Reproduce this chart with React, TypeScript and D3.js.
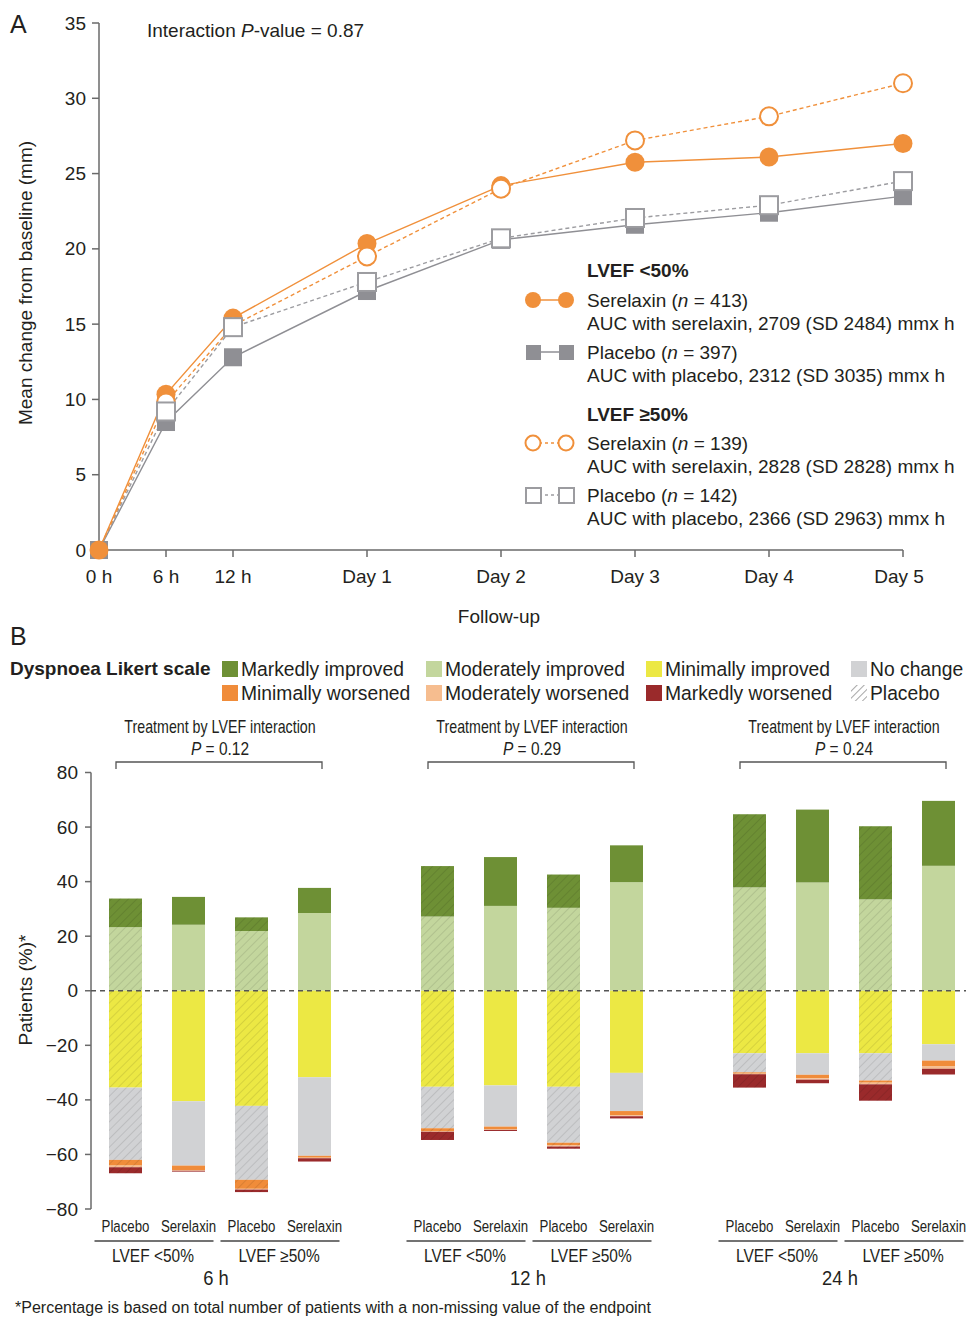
import React from "react";
import * as d3 from "d3";

// ---------- Panel A data ----------
const timeLabels = ["0 h", "6 h", "12 h", "Day 1", "Day 2", "Day 3", "Day 4", "Day 5"];
const timeHours = [0, 6, 12, 24, 48, 72, 96, 120];
const serelaxinLow = [0, 10.35, 15.4, 20.35, 24.2, 25.75, 26.1, 27.0];
const placeboLow = [0, 8.5, 12.8, 17.2, 20.6, 21.6, 22.4, 23.5];
const serelaxinHigh = [0, 9.8, 14.9, 19.5, 24.0, 27.2, 28.8, 31.0];
const placeboHigh = [0, 9.2, 14.8, 17.8, 20.7, 22.05, 22.9, 24.5];
const yTicksA = [0, 5, 10, 15, 20, 25, 30, 35];

// ---------- Panel B data ----------
const timepoints = ["6 h", "12 h", "24 h"];
const pValues = ["0.12", "0.29", "0.24"];
const treatments = ["Placebo", "Serelaxin", "Placebo", "Serelaxin"];
const lvefGroups = ["LVEF <50%", "LVEF \u226550%"];
// 12 bars: per timepoint [Placebo <50, Serelaxin <50, Placebo >=50, Serelaxin >=50]
const markedlyImproved = [10.5, 10.2, 5.0, 9.2, 18.5, 17.9, 12.2, 13.5, 26.8, 26.7, 26.8, 23.8];
const moderatelyImproved = [23.3, 24.2, 21.9, 28.5, 27.2, 31.1, 30.4, 39.8, 37.9, 39.7, 33.5, 45.8];
const minimallyImproved = [35.5, 40.5, 42.2, 31.7, 35.2, 34.7, 35.2, 30.1, 22.9, 22.9, 22.9, 19.6];
const noChange = [26.5, 23.6, 27.1, 28.8, 15.2, 15.1, 20.5, 14.0, 7.0, 7.9, 10.0, 6.0];
const minimallyWorsened = [2.1, 1.6, 3.3, 0.7, 1.0, 1.0, 1.0, 1.5, 0.5, 1.3, 0.8, 2.0];
const moderatelyWorsened = [0.6, 0.3, 0.3, 0.2, 0.3, 0.2, 0.4, 0.4, 0.2, 0.5, 0.6, 1.0];
const markedlyWorsened = [2.2, 0.3, 0.9, 1.2, 3.0, 0.4, 0.8, 0.8, 4.9, 1.3, 6.0, 2.1];
const yTicksB = [-80, -60, -40, -20, 0, 20, 40, 60, 80];

const FONT = "'Liberation Sans', Arial, Helvetica, sans-serif";
const TXT = "#231f20";
const ORANGE = "#f0903b";
const GRAY = "#8f8f94";
const GRAY_OPEN = "#9c9ca0";
const AXIS = "#6a6a6a";

const catColors: Record<string, string> = {
  modImp: "#c3d69d",
  markImp: "#6e9035",
  minImp: "#ece844",
  noChange: "#d1d2d4",
  minWor: "#f08c3a",
  modWor: "#f6bd8f",
  markWor: "#9a2a2b",
};

const legendItems = [
  { key: "markImp", label: "Markedly improved", col: 0, row: 0 },
  { key: "modImp", label: "Moderately improved", col: 1, row: 0 },
  { key: "minImp", label: "Minimally improved", col: 2, row: 0 },
  { key: "noChange", label: "No change", col: 3, row: 0 },
  { key: "minWor", label: "Minimally worsened", col: 0, row: 1 },
  { key: "modWor", label: "Moderately worsened", col: 1, row: 1 },
  { key: "markWor", label: "Markedly worsened", col: 2, row: 1 },
  { key: "placebo", label: "Placebo", col: 3, row: 1 },
];
const legendColX = [222, 426, 646, 851];

const Cond = ({ x, y, s = 0.82, size = 18, children, anchor = "middle" }: any) => (
  <text
    transform={`translate(${x},${y}) scale(${s},1)`}
    textAnchor={anchor}
    fontSize={size}
    fill={TXT}
  >
    {children}
  </text>
);

export default function App() {
  // ----- Panel A scales -----
  const xA = d3.scaleLinear().domain([0, 24, 120]).range([99, 367, 903]);
  const yA = d3.scaleLinear().domain([0, 35]).range([550, 23]);
  const line = d3
    .line<number>()
    .x((_, i) => xA(timeHours[i]))
    .y((d) => yA(d));

  // ----- Panel B scales -----
  const yB = d3.scaleLinear().domain([-80, 80]).range([1209, 772.5]);
  const xG = d3.scalePoint<string>().domain(timepoints).range([220, 844]);
  const xIn = d3.scalePoint<string>().domain(["0", "1", "2", "3"]).range([-94.5, 94.5]);
  const barW = 33;

  const rows = markedlyImproved.map((_, i) => ({
    modImp: moderatelyImproved[i],
    markImp: markedlyImproved[i],
    minImp: -minimallyImproved[i],
    noChange: -noChange[i],
    minWor: -minimallyWorsened[i],
    modWor: -moderatelyWorsened[i],
    markWor: -markedlyWorsened[i],
  }));
  const keys = ["modImp", "markImp", "minImp", "noChange", "minWor", "modWor", "markWor"];
  const stacked = d3.stack<any>().keys(keys).offset(d3.stackOffsetDiverging)(rows);

  const barX = (i: number) => {
    const g = timepoints[Math.floor(i / 4)];
    return (xG(g) as number) + (xIn(String(i % 4)) as number);
  };
  const isPlacebo = (i: number) => treatments[i % 4] === "Placebo";

  return (
    <svg
      width={966}
      height={1318}
      style={{ position: "absolute", left: 0, top: 0, background: "#fff" }}
      fontFamily={FONT}
    >
      <defs>
        <pattern id="hatch" patternUnits="userSpaceOnUse" width={6} height={6} patternTransform="rotate(45)">
          <line x1={0} y1={0} x2={0} y2={6} stroke="#000" strokeOpacity={0.16} strokeWidth={1.2} />
        </pattern>
        <pattern id="hatchIcon" patternUnits="userSpaceOnUse" width={5} height={5} patternTransform="rotate(45)">
          <line x1={0} y1={0} x2={0} y2={5} stroke="#777" strokeWidth={1.3} />
        </pattern>
      </defs>

      {/* ================= Panel A ================= */}
      <text x={10} y={33} fontSize={25} fill={TXT}>A</text>
      <text x={147} y={37} fontSize={19} fill={TXT}>
        Interaction <tspan fontStyle="italic">P</tspan>-value = 0.87
      </text>

      {/* axes */}
      <line x1={99} x2={99} y1={yA(35)} y2={yA(0)} stroke={AXIS} strokeWidth={1.5} />
      <line x1={99} x2={903} y1={yA(0)} y2={yA(0)} stroke={AXIS} strokeWidth={1.5} />
      {yTicksA.map((t) => (
        <g key={t}>
          <line x1={92} x2={99} y1={yA(t)} y2={yA(t)} stroke={AXIS} strokeWidth={1.5} />
          <text x={86} y={yA(t) + 6.5} textAnchor="end" fontSize={19} fill={TXT}>{t}</text>
        </g>
      ))}
      {timeLabels.map((lab, i) => (
        <g key={lab}>
          {i > 0 && (
            <line x1={xA(timeHours[i])} x2={xA(timeHours[i])} y1={550} y2={557} stroke={AXIS} strokeWidth={1.5} />
          )}
          <text x={xA(timeHours[i]) + (i === timeLabels.length - 1 ? -4 : 0)} y={583} textAnchor="middle" fontSize={19} fill={TXT}>
            {lab}
          </text>
        </g>
      ))}
      <text x={499} y={623} textAnchor="middle" fontSize={19} fill={TXT}>Follow-up</text>
      <text transform="translate(32,283) rotate(-90)" textAnchor="middle" fontSize={19} fill={TXT}>
        Mean change from baseline (mm)
      </text>

      {/* lines */}
      <path d={line(placeboLow) as string} fill="none" stroke={GRAY} strokeWidth={1.4} />
      <path d={line(placeboHigh) as string} fill="none" stroke={GRAY_OPEN} strokeWidth={1.4} strokeDasharray="4,3" />
      <path d={line(serelaxinLow) as string} fill="none" stroke={ORANGE} strokeWidth={1.4} />
      <path d={line(serelaxinHigh) as string} fill="none" stroke={ORANGE} strokeWidth={1.4} strokeDasharray="4,3" />

      {/* markers */}
      {placeboLow.map((v, i) => (
        <rect key={"pl" + i} x={xA(timeHours[i]) - 9} y={yA(v) - 9} width={18} height={18} fill={GRAY} />
      ))}
      {serelaxinLow.map((v, i) => (
        <circle key={"sl" + i} cx={xA(timeHours[i])} cy={yA(v)} r={9.5} fill={ORANGE} />
      ))}
      {serelaxinHigh.map((v, i) =>
        i === 0 ? null : (
          <circle key={"sh" + i} cx={xA(timeHours[i])} cy={yA(v)} r={9} fill="#fff" stroke={ORANGE} strokeWidth={2} />
        )
      )}
      {placeboHigh.map((v, i) =>
        i === 0 ? null : (
          <rect key={"ph" + i} x={xA(timeHours[i]) - 9} y={yA(v) - 9} width={18} height={18} fill="#fff" stroke={GRAY_OPEN} strokeWidth={2} />
        )
      )}

      {/* legend A */}
      <g fontSize={19} fill={TXT}>
        <text x={587} y={277} fontWeight="bold" fill={TXT}>{"LVEF <50%"}</text>
        <line x1={533} x2={566} y1={300} y2={300} stroke={ORANGE} strokeWidth={1.4} />
        <circle cx={533} cy={300} r={8} fill={ORANGE} />
        <circle cx={566} cy={300} r={8} fill={ORANGE} />
        <text x={587} y={307} fill={TXT}>Serelaxin (<tspan fontStyle="italic">n</tspan> = 413)</text>
        <text x={587} y={330} fill={TXT}>AUC with serelaxin, 2709 (SD 2484) mmx h</text>

        <line x1={533} x2={566} y1={352} y2={352} stroke={GRAY} strokeWidth={1.4} />
        <rect x={526} y={345} width={15} height={15} fill={GRAY} />
        <rect x={559} y={345} width={15} height={15} fill={GRAY} />
        <text x={587} y={359} fill={TXT}>Placebo (<tspan fontStyle="italic">n</tspan> = 397)</text>
        <text x={587} y={382} fill={TXT}>AUC with placebo, 2312 (SD 3035) mmx h</text>

        <text x={587} y={421} fontWeight="bold" fill={TXT}>{"LVEF \u226550%"}</text>
        <line x1={533} x2={566} y1={443} y2={443} stroke={ORANGE} strokeWidth={1.4} strokeDasharray="3,3" />
        <circle cx={533} cy={443} r={7.5} fill="#fff" stroke={ORANGE} strokeWidth={2} />
        <circle cx={566} cy={443} r={7.5} fill="#fff" stroke={ORANGE} strokeWidth={2} />
        <text x={587} y={450} fill={TXT}>Serelaxin (<tspan fontStyle="italic">n</tspan> = 139)</text>
        <text x={587} y={473} fill={TXT}>AUC with serelaxin, 2828 (SD 2828) mmx h</text>

        <line x1={533} x2={566} y1={495} y2={495} stroke={GRAY_OPEN} strokeWidth={1.4} strokeDasharray="3,3" />
        <rect x={526} y={488} width={15} height={15} fill="#fff" stroke={GRAY_OPEN} strokeWidth={2} />
        <rect x={559} y={488} width={15} height={15} fill="#fff" stroke={GRAY_OPEN} strokeWidth={2} />
        <text x={587} y={502} fill={TXT}>Placebo (<tspan fontStyle="italic">n</tspan> = 142)</text>
        <text x={587} y={525} fill={TXT}>AUC with placebo, 2366 (SD 2963) mmx h</text>
      </g>

      {/* ================= Panel B ================= */}
      <text x={10} y={645} fontSize={25} fill={TXT}>B</text>
      <text x={10} y={675} fontSize={19} fontWeight="bold" fill={TXT}>Dyspnoea Likert scale</text>
      {legendItems.map((it) => {
        const x = legendColX[it.col];
        const y = it.row === 0 ? 661 : 685;
        return (
          <g key={it.key}>
            <rect
              x={x}
              y={y}
              width={16}
              height={16}
              fill={it.key === "placebo" ? "url(#hatchIcon)" : catColors[it.key]}
            />
            <text x={x + 19} y={y + 14.5} fontSize={19.3} fill={TXT}>{it.label}</text>
          </g>
        );
      })}

      {/* bracket annotations */}
      {timepoints.map((t, gi) => {
        const g = xG(t) as number;
        return (
          <g key={t}>
            <Cond x={g} y={733} s={0.79} size={18}>Treatment by LVEF interaction</Cond>
            <Cond x={g} y={755} s={0.86} size={18}>
              <tspan fontStyle="italic">P</tspan> = {pValues[gi]}
            </Cond>
            <path
              d={`M${g - 104},769 V762 H${g + 102} V769`}
              fill="none"
              stroke="#555"
              strokeWidth={1.3}
            />
          </g>
        );
      })}

      {/* axis B */}
      <line x1={91} x2={91} y1={yB(80)} y2={yB(-80)} stroke={AXIS} strokeWidth={1.5} />
      {yTicksB.map((t) => (
        <g key={t}>
          <line x1={85} x2={91} y1={yB(t)} y2={yB(t)} stroke={AXIS} strokeWidth={1.5} />
          <text x={78} y={yB(t) + 6.5} textAnchor="end" fontSize={19} fill={TXT}>
            {t < 0 ? "\u2212" + Math.abs(t) : t}
          </text>
        </g>
      ))}
      <text transform="translate(32,990) rotate(-90)" textAnchor="middle" fontSize={19} fill={TXT}>
        Patients (%)*
      </text>

      {/* bars */}
      {stacked.map((series) => (
        <g key={series.key}>
          {series.map((d, i) => {
            const y0 = yB(d[0]);
            const y1 = yB(d[1]);
            const top = Math.min(y0, y1);
            const h = Math.abs(y1 - y0);
            return (
              <g key={i}>
                <rect x={barX(i) - barW / 2} y={top} width={barW} height={h} fill={catColors[series.key]} />
                {isPlacebo(i) && (
                  <rect x={barX(i) - barW / 2} y={top} width={barW} height={h} fill="url(#hatch)" />
                )}
              </g>
            );
          })}
        </g>
      ))}

      {/* zero dashed line */}
      <line x1={91} x2={966} y1={yB(0)} y2={yB(0)} stroke="#555" strokeWidth={1.5} strokeDasharray="5,4" />

      {/* bottom category labels */}
      {timepoints.map((t, gi) => {
        const g = xG(t) as number;
        return (
          <g key={"lab" + t}>
            {treatments.map((tr, j) => (
              <Cond key={j} x={g + (xIn(String(j)) as number)} y={1232} s={0.78} size={17}>
                {tr}
              </Cond>
            ))}
            {lvefGroups.map((lv, k) => {
              const c1 = g + (xIn(String(k * 2)) as number);
              const c2 = g + (xIn(String(k * 2 + 1)) as number);
              const mid = (c1 + c2) / 2;
              return (
                <g key={lv}>
                  <line x1={c1 - 31} x2={c2 + 25} y1={1241} y2={1241} stroke="#444" strokeWidth={1.3} />
                  <Cond x={mid - 4} y={1262} s={0.86} size={18}>{lv}</Cond>
                </g>
              );
            })}
            <Cond x={g - 4} y={1285} s={0.92} size={20}>{t}</Cond>
          </g>
        );
      })}

      <text x={15} y={1313} fontSize={16} fill={TXT}>
        *Percentage is based on total number of patients with a non-missing value of the endpoint
      </text>
    </svg>
  );
}
